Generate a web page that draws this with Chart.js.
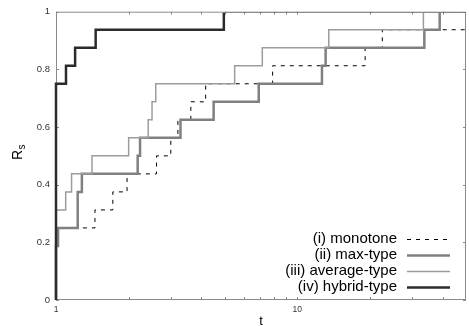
<!DOCTYPE html>
<html><head><meta charset="utf-8">
<script src="https://cdn.jsdelivr.net/npm/chart.js@4/dist/chart.umd.min.js"></script>
<style>html,body{margin:0;padding:0;background:#fff}#wrap{width:469px;height:326px}</style>
</head><body><div id="wrap"><canvas id="c" width="469" height="326"></canvas></div>
<script>
// ---- data (performance profile) ----
const seriesLabels = ['(i) monotone', '(ii) max-type', '(iii) average-type', '(iv) hybrid-type'];

const monotoneT = [1, 1, 1.45, 1.72, 1.97, 2.61, 2.99, 3.2, 3.62, 4.17, 7.9, 19.1, 22.5, 50];
const monotoneR = [0, 0.25, 0.3125, 0.375, 0.4375, 0.5, 0.5625, 0.625, 0.6875, 0.75, 0.8125, 0.875, 0.9375, 0.9375];

const maxT = [1, 1, 1.02, 1.23, 1.28, 2.18, 2.23, 3.28, 4.5, 6.92, 12.65, 13.1, 33.6, 38.9, 50];
const maxR = [0, 0.1875, 0.25, 0.375, 0.4375, 0.5, 0.5625, 0.625, 0.6875, 0.75, 0.8125, 0.875, 0.9375, 1, 1];

const avgT = [1, 1, 1.097, 1.16, 1.41, 2.0, 2.41, 2.5, 2.59, 5.5, 7.16, 13.5, 33.3, 50];
const avgR = [0, 0.3125, 0.375, 0.4375, 0.5, 0.5625, 0.625, 0.6875, 0.75, 0.8125, 0.875, 0.9375, 1, 1];

const hybT = [1, 1, 1.10, 1.2, 1.46, 4.96, 50];
const hybR = [0, 0.75, 0.8125, 0.875, 0.9375, 1, 1];

const xMajorTicks = [1, 10];
const xMinorTicks = [2, 3, 4, 5, 6, 7, 8, 9, 20, 30, 40];
const xTickLabels = ['1', '10'];
const yTicks = [0, 0.2, 0.4, 0.6, 0.8, 1];
const yTickLabels = ['0', '0.2', '0.4', '0.6', '0.8', '1'];
const xTitle = 't';

// ---- build ----
const pts = (t, r) => t.map((v, i) => ({x: v, y: r[i]}));
const FONT = '"Liberation Sans", Arial, sans-serif';
const styles = [
  {color: '#000000', width: 1, dash: [4, 5]},
  {color: '#808080', width: 2.5, dash: []},
  {color: '#9c9c9c', width: 1.5, dash: []},
  {color: '#2b2b2b', width: 2.5, dash: []}
];
const seriesData = [pts(monotoneT, monotoneR), pts(maxT, maxR), pts(avgT, avgR), pts(hybT, hybR)];
const datasets = seriesData.map((d, i) => ({
  label: seriesLabels[i],
  data: d,
  borderColor: styles[i].color,
  borderWidth: styles[i].width,
  borderDash: styles[i].dash,
  stepped: 'before',
  pointRadius: 0,
  fill: false,
  order: 3 - i,
  clip: {left: 2, top: -1, right: 0, bottom: 1}
}));

const framePlugin = {
  id: 'frame',
  beforeDatasetsDraw(chart) {
    const {ctx, chartArea: a, scales: {x, y}} = chart;
    ctx.save();
    ctx.strokeStyle = '#8a8a8a';
    ctx.lineWidth = 1;
    ctx.strokeRect(a.left + 0.5, a.top + 0.5, a.right - a.left - 1, a.bottom - a.top - 1);
    ctx.beginPath();
    const tl = 3;
    xMajorTicks.concat(xMinorTicks).forEach(v => {
      const px = Math.round(x.getPixelForValue(v)) + 0.5;
      ctx.moveTo(px, a.bottom); ctx.lineTo(px, a.bottom - tl);
      ctx.moveTo(px, a.top); ctx.lineTo(px, a.top + tl);
    });
    yTicks.forEach(v => {
      const py = Math.round(y.getPixelForValue(v)) + 0.5;
      ctx.moveTo(a.left, py); ctx.lineTo(a.left + tl, py);
      ctx.moveTo(a.right, py); ctx.lineTo(a.right - tl, py);
    });
    ctx.stroke();
    ctx.restore();
  },
  afterDatasetsDraw(chart) {
    const {ctx, chartArea: a} = chart;
    ctx.save();
    // legend (inside, bottom-right)
    ctx.font = '15px ' + FONT;
    ctx.fillStyle = '#000';
    ctx.textAlign = 'right';
    ctx.textBaseline = 'middle';
    const textRight = a.right - 69, lineL = a.right - 59, lineR = a.right - 16;
    seriesLabels.forEach((lab, i) => {
      const yy = a.bottom - 60.7 + i * 15.8;
      ctx.fillText(lab, textRight, yy);
      ctx.beginPath();
      ctx.strokeStyle = styles[i].color;
      ctx.lineWidth = styles[i].width;
      ctx.setLineDash(styles[i].dash);
      ctx.moveTo(lineL, Math.round(yy) + 0.5);
      ctx.lineTo(lineR, Math.round(yy) + 0.5);
      ctx.stroke();
      ctx.setLineDash([]);
    });
    // axis titles
    ctx.textAlign = 'center';
    ctx.textBaseline = 'alphabetic';
    ctx.font = '13px ' + FONT;
    ctx.fillText(xTitle, (a.left + a.right) / 2, 325);
    ctx.translate(22, 160);
    ctx.rotate(-Math.PI / 2);
    ctx.textAlign = 'left';
    ctx.font = '14px ' + FONT;
    ctx.fillText('R', 0, 0);
    const w = ctx.measureText('R').width;
    ctx.font = '10px ' + FONT;
    ctx.fillText('s', w + 0.5, 3);
    ctx.restore();
  }
};

new Chart(document.getElementById('c'), {
  type: 'line',
  data: {datasets},
  options: {
    responsive: false,
    animation: false,
    events: [],
    layout: {padding: {top: 10, right: 3, left: 0, bottom: 0}},
    plugins: {legend: {display: false}, tooltip: {enabled: false}},
    scales: {
      x: {
        type: 'logarithmic', min: 1, max: 50,
        grid: {display: false, drawTicks: false, tickLength: 0},
        border: {display: false},
        afterBuildTicks(s) { s.ticks = xMajorTicks.map(v => ({value: v})); },
        afterFit(s) { s.height = 26; },
        ticks: {
          autoSkip: false, maxRotation: 0, padding: 5,
          color: '#333', font: {family: FONT, size: 8.5},
          callback: (v) => { const i = xMajorTicks.indexOf(v); return i >= 0 ? xTickLabels[i] : ''; }
        }
      },
      y: {
        type: 'linear', min: 0, max: 1,
        grid: {display: false, drawTicks: false, tickLength: 0},
        border: {display: false},
        afterBuildTicks(s) { s.ticks = yTicks.map(v => ({value: v})); },
        afterFit(s) { s.width = 56; },
        ticks: {
          padding: 6, color: '#333', font: {family: FONT, size: 9.5},
          callback: (v) => { const i = yTicks.indexOf(v); return i >= 0 ? yTickLabels[i] : ''; }
        }
      }
    }
  },
  plugins: [framePlugin]
});
</script>
</body></html>
